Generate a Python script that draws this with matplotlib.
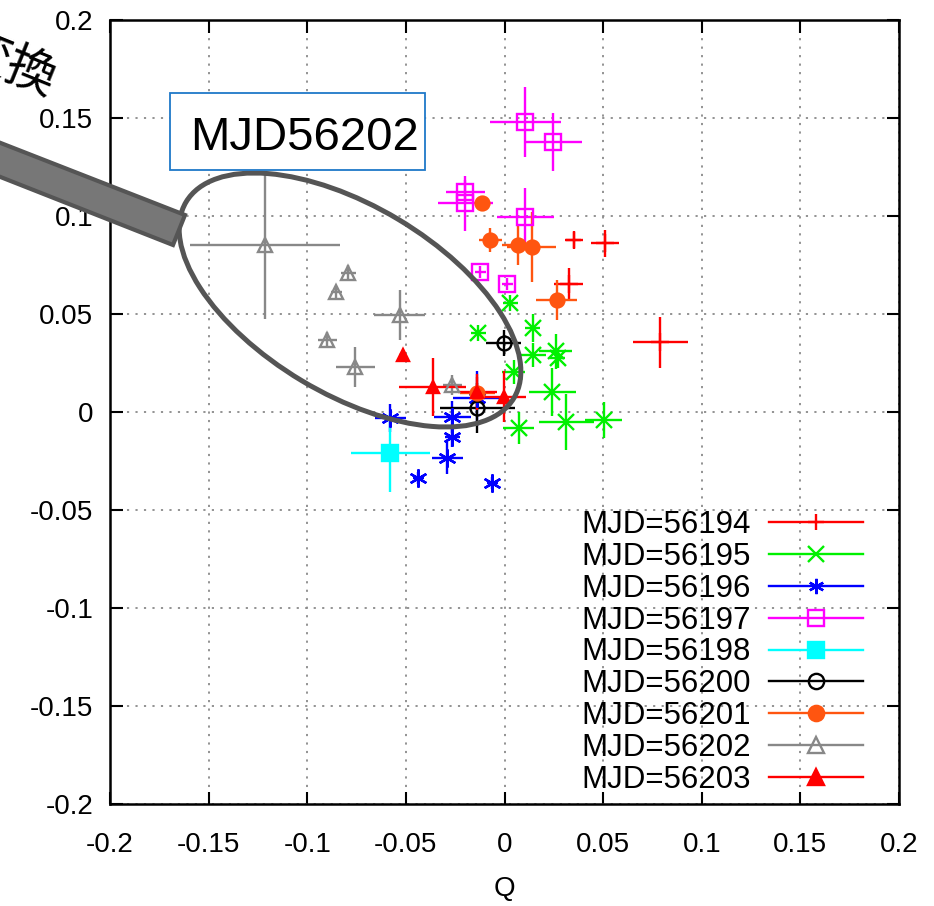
import matplotlib
matplotlib.use("Agg")
import matplotlib.pyplot as plt
from matplotlib.lines import Line2D
from matplotlib.patches import Ellipse, Polygon, Rectangle

plt.rcParams['font.family'] = ['Liberation Sans', 'Noto Sans CJK JP']

# ---------------- data (Q, U, dQ, dU) ----------------
labels = ['MJD=56194', 'MJD=56195', 'MJD=56196', 'MJD=56197', 'MJD=56198',
          'MJD=56200', 'MJD=56201', 'MJD=56202', 'MJD=56203']

q_56194 = [0.035, 0.051, 0.0325, 0.079]
u_56194 = [0.0878, 0.086, 0.0653, 0.0357]
dq_56194 = [0.004, 0.007, 0.0075, 0.014]
du_56194 = [0.004, 0.007, 0.008, 0.013]

q_56195 = [0.003, 0.0142, 0.0142, 0.0259, 0.0269, 0.0243, 0.0314, 0.0502, 0.0071, -0.0132, 0.0046]
u_56195 = [0.0556, 0.0429, 0.029, 0.031, 0.0276, 0.0102, -0.0051, -0.0041, -0.0082, 0.0403, 0.0204]
dq_56195 = [0.004, 0.004, 0.0067, 0.0085, 0.004, 0.012, 0.014, 0.0095, 0.008, 0.004, 0.006]
du_56195 = [0.004, 0.007, 0.006, 0.009, 0.005, 0.012, 0.0145, 0.009, 0.008, 0.004, 0.006]

q_56196 = [-0.0578, -0.0264, -0.0264, -0.0289, -0.0436, -0.0061, -0.0137]
u_56196 = [-0.0031, -0.0026, -0.0128, -0.0235, -0.0337, -0.0362, 0.0071]
dq_56196 = [0.008, 0.0095, 0.004, 0.008, 0.003, 0.003, 0.0125]
du_56196 = [0.007, 0.008, 0.005, 0.008, 0.003, 0.003, 0.014]

q_56197 = [0.0106, 0.0248, -0.0198, -0.0198, 0.0106, -0.0122, 0.0015]
u_56197 = [0.148, 0.1378, 0.1122, 0.1066, 0.0995, 0.0714, 0.0653]
dq_56197 = [0.018, 0.0145, 0.010, 0.014, 0.0145, 0.003, 0.003]
du_56197 = [0.018, 0.015, 0.006, 0.014, 0.015, 0.003, 0.003]

q_56198 = [-0.0578]
u_56198 = [-0.0209]
dq_56198 = [0.020]
du_56198 = [0.020]

q_56200 = [-0.0005, -0.0137]
u_56200 = [0.0352, 0.002]
dq_56200 = [0.0088, 0.019]
du_56200 = [0.0068, 0.0127]

q_56201 = [-0.0112, -0.0071, 0.0066, 0.0137, 0.0264, -0.0137]
u_56201 = [0.1066, 0.0878, 0.0852, 0.0842, 0.0571, 0.0097]
dq_56201 = [0.003, 0.006, 0.008, 0.0125, 0.0105, 0.009]
du_56201 = [0.003, 0.006, 0.010, 0.018, 0.010, 0.008]

q_56202 = [-0.1212, -0.0791, -0.0852, -0.0532, -0.0898, -0.0756, -0.0264]
u_56202 = [0.0852, 0.0709, 0.0612, 0.0495, 0.0367, 0.023, 0.0138]
dq_56202 = [0.038, 0.004, 0.003, 0.013, 0.005, 0.010, 0.005]
du_56202 = [0.038, 0.004, 0.003, 0.013, 0.004, 0.010, 0.005]

q_56203 = [-0.0517, -0.0365, -0.0005, -0.0137]
u_56203 = [0.0291, 0.0128, 0.0077, 0.0102]
dq_56203 = [0.002, 0.017, 0.0115, 0.010]
du_56203 = [0.002, 0.015, 0.013, 0.009]

series = [
    (q_56194, u_56194, dq_56194, du_56194),
    (q_56195, u_56195, dq_56195, du_56195),
    (q_56196, u_56196, dq_56196, du_56196),
    (q_56197, u_56197, dq_56197, du_56197),
    (q_56198, u_56198, dq_56198, du_56198),
    (q_56200, u_56200, dq_56200, du_56200),
    (q_56201, u_56201, dq_56201, du_56201),
    (q_56202, u_56202, dq_56202, du_56202),
    (q_56203, u_56203, dq_56203, du_56203),
]

ticks = [-0.2, -0.15, -0.1, -0.05, 0, 0.05, 0.1, 0.15, 0.2]
tick_labels = ['-0.2', '-0.15', '-0.1', '-0.05', '0', '0.05', '0.1', '0.15', '0.2']

# ---------------- styles ----------------
colors = ['#ff0000', '#00f000', '#0000ff', '#ff00ff', '#00ffff',
          '#000000', '#ff5510', '#888888', '#ff0000']
markers = ['+', 'x', (6, 2, 0), 's', 's', 'o', 'o', '^', '^']
filled = [True, True, True, False, True, False, True, False, True]
msizes = [13, 12, 13, 11.5, 11.5, 10, 10, 10, 9]

W, H = 934, 906
fig = plt.figure(figsize=(W / 100, H / 100), dpi=100)
ax = fig.add_axes([110 / W, 1 - 804 / H, (899 - 110) / W, (804 - 20) / H])

for (q, u, dq, du), c, m, f, ms in zip(series, colors, markers, filled, msizes):
    ax.errorbar(q, u, xerr=dq, yerr=du, fmt='none', ecolor=c,
                elinewidth=1.7, capsize=0, zorder=3)
    ax.plot(q, u, ls='none', marker=m, ms=ms, mec=c,
            mfc=c if f else 'none', mew=1.7, zorder=4)

ax.set_xlim(-0.2, 0.2)
ax.set_ylim(-0.2, 0.2)
ax.set_xticks(ticks)
ax.set_xticklabels(tick_labels)
ax.set_yticks(ticks)
ax.set_yticklabels(tick_labels)
ax.tick_params(direction='in', length=9, width=1.5, labelsize=20,
               top=True, right=True, colors='black')
ax.tick_params(axis='x', pad=20)
ax.tick_params(axis='y', pad=12)
for sp in ax.spines.values():
    sp.set_linewidth(1.8)
ax.grid(True, color='#8a8a8a', linestyle=(0, (1.2, 3.5)), linewidth=1.3)
ax.set_axisbelow(True)
ax.set_xlabel('Q', fontsize=20, labelpad=13)

handles = []
for lab, c, m, f in zip(labels, colors, markers, filled):
    handles.append(Line2D([0], [0], color=c, lw=1.7, marker=m, ms=11, mec=c,
                          mfc=c if f else 'none', mew=1.7, label=lab))
leg = ax.legend(handles=handles, loc='lower right', markerfirst=False,
                frameon=False, fontsize=22.5, handlelength=3.0,
                handletextpad=0.6, labelspacing=0.06, borderpad=0,
                borderaxespad=0,
                bbox_to_anchor=(863 / W, 1 - 795 / H),
                bbox_transform=fig.transFigure)

# ---------------- overlay annotations (pixel space) ----------------
ov = fig.add_axes([0, 0, 1, 1], zorder=10)
ov.set_xlim(0, W)
ov.set_ylim(H, 0)
ov.axis('off')

ov.add_patch(Ellipse((350, 300), 382, 188, angle=30.9, fill=False,
                     edgecolor='#555555', linewidth=3.6))
ov.add_patch(Polygon([(-30, 131), (185, 215), (173, 245), (-30, 165)],
                     closed=True, facecolor='#777777', edgecolor='#555555',
                     linewidth=3.0))
ov.add_patch(Rectangle((170, 93), 255, 77, facecolor='white',
                       edgecolor='#1f78c8', linewidth=1.3))
ov.text(305, 150, 'MJD56202', fontsize=34, ha='center', va='baseline',
        color='black')
ov.text(54, 84, '変換', fontsize=36, ha='right', va='center', rotation=-22,
        rotation_mode='anchor', family=['Noto Sans CJK JP'], color='black')

fig.savefig('out.png', dpi=100)
